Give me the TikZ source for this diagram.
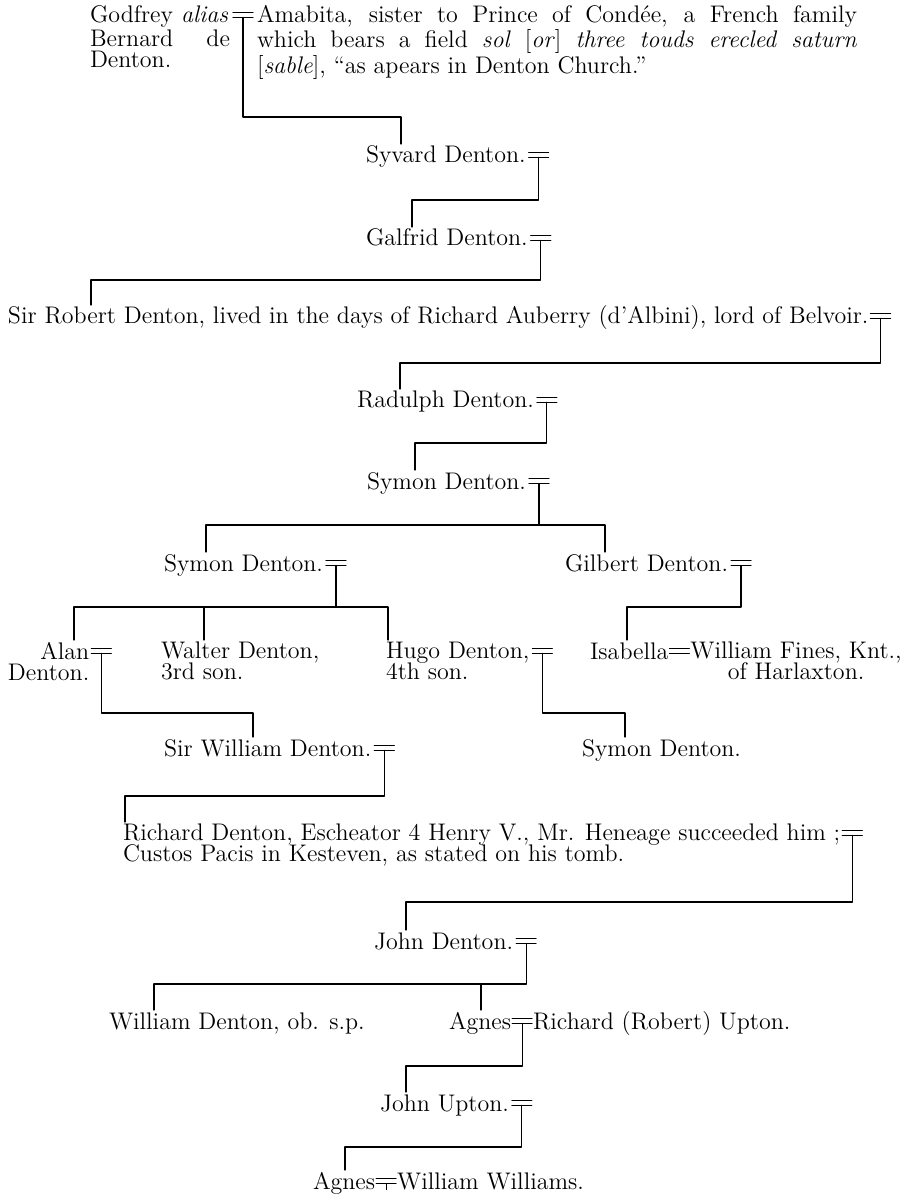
\documentclass[tikz,border=0pt]{standalone}
\usetikzlibrary{calc}

\begin{document}
\lineskiplimit=-30pt
\begin{tikzpicture}[
    x=0.5pt, y=-0.5pt,
    line cap=round,
    line join=round,
    person/.style={inner sep=0pt, outer sep=0pt, anchor=base west,
        font=\fontsize{12}{10.5}\selectfont},
    block/.style={person, anchor=north west},
    link/.style={line width=0.55pt},
    wed/.pic={\draw[link] (-10,-5) -- (10,-5) (-10,0) -- (10,0);},
    wedstem/.pic={\draw[link] (-10,-5) -- (10,-5) (-10,0) -- (10,0) (0,0) -- (0,6);}
]
\useasboundingbox (0,0) rectangle (912,1197);

% -------------------------------------------------
% Heights of the bars that join each family
% -------------------------------------------------

\coordinate (bar1)  at (0,117);
\coordinate (bar2)  at (0,200);
\coordinate (bar3)  at (0,280);
\coordinate (bar4)  at (0,363);
\coordinate (bar5)  at (0,443);
\coordinate (bar6)  at (0,525);
\coordinate (bar7)  at (0,607);
\coordinate (bar8)  at (0,713);
\coordinate (bar9)  at (0,796);
\coordinate (bar10) at (0,902);
\coordinate (bar11) at (0,984);
\coordinate (bar12) at (0,1066);
\coordinate (bar13) at (0,1147);

% -------------------------------------------------
% First couple
% -------------------------------------------------

\node[person, text width=70pt, align=left] (godfrey) at (90,23)
    {Godfrey \textit{alias}\\Bernard\hfill de\\Denton.};
\coordinate (godfrey-m) at ($(godfrey.base east)+(13,-5.5)$);
\node[person, text width=300pt, align=justify] (amabita) at ($(godfrey-m)+(14,5.5)$)
    {Amabita, sister to Prince of Condée, a French family\linebreak
     which bears a field \textit{sol} [\textit{or}] \textit{three touds erecled saturn}\linebreak{}[\textit{sable}], “as apears in Denton Church.”};

% -------------------------------------------------
% Single line of descent
% -------------------------------------------------

\node[person] (syvard)  at (366,163) {Syvard Denton.};
\node[person] (galfrid) at (366,246) {Galfrid Denton.};
\node[person] (robert)  at (8,324)
    {Sir Robert Denton, lived in the days of Richard Auberry (d'Albini), lord of Belvoir.};
\node[person] (radulph) at (357,408) {Radulph Denton.};
\node[person] (symon)   at (367,489) {Symon Denton.};

% -------------------------------------------------
% The branches
% -------------------------------------------------

\node[person] (symonb)  at (164,571) {Symon Denton.};
\node[person] (gilbert) at (565,571) {Gilbert Denton.};

% two-line entries hang from the top of their first line
\node[block, align=right] (alan)   at (8,642.3)   {Alan\\Denton.};
\node[block, align=left]  (walter) at (161,642.3) {Walter Denton,\\3rd son.};
\node[block, align=left]  (hugo)   at (386,642.3) {Hugo Denton,\\4th son.};
\node[person] (isabella) at (590,659) {Isabella};

\node[person] (william) at (164,756) {Sir William Denton.};
\node[person] (symonc)  at (582,756) {Symon Denton.};

\node[block, align=left] (richard) at (123,824.3)
    {Richard Denton, Escheator 4 Henry V., Mr. Heneage succeeded him ;\\
     Custos Pacis in Kesteven, as stated on his tomb.};

\node[person] (john)     at (374,949)  {John Denton.};
\node[person] (williamb) at (109,1029) {William Denton, ob. s.p.};
\node[person] (agnes)    at (449,1029) {Agnes};
\node[person] (johnu)    at (380,1111) {John Upton.};
\node[person] (agnesb)   at (313,1189) {Agnes};

% -------------------------------------------------
% Marriage signs
% -------------------------------------------------

\coordinate (syvard-m)   at ($(syvard.base east)+(13,-5.5)$);
\coordinate (galfrid-m)  at ($(galfrid.base east)+(13,-5.5)$);
\coordinate (robert-m)   at ($(robert.base east)+(12,-5.5)$);
\coordinate (radulph-m)  at ($(radulph.base east)+(13,-5.5)$);
\coordinate (symon-m)    at ($(symon.base east)+(13,-5.5)$);
\coordinate (symonb-m)   at ($(symonb.base east)+(13,-5.5)$);
\coordinate (gilbert-m)  at ($(gilbert.base east)+(13,-5.5)$);
\coordinate (alan-m)     at ($(alan.north east)+(12,11.2)$);
\coordinate (hugo-m)     at ($(hugo.north east)+(13,11.2)$);
\coordinate (isabella-m) at ($(isabella.base east)+(11,-5.5)$);
\coordinate (william-m)  at ($(william.base east)+(13,-5.5)$);
\coordinate (richard-m)  at ($(richard.north east)+(12,11.2)$);
\coordinate (john-m)     at ($(john.base east)+(13,-5.5)$);
\coordinate (agnes-m)    at ($(agnes.base east)+(11,-5.5)$);
\coordinate (johnu-m)    at ($(johnu.base east)+(13,-5.5)$);
\coordinate (agnesb-m)   at ($(agnesb.base east)+(11,-5.5)$);

\foreach \who in {godfrey,syvard,galfrid,robert,radulph,symon,symonb,gilbert,
                  alan,hugo,william,richard,john,agnes,johnu,agnesb}
    \pic at (\who-m) {wedstem};
\pic at (isabella-m) {wed};

% husbands written after the sign
\node[block, align=center] (fines) at ($(isabella-m)+(11,-11.2)$)
    {William Fines, Knt.,\\of Harlaxton.};
\node[person] (upton)    at ($(agnes-m)+(11,5.5)$)  {Richard (Robert) Upton.};
\node[person] (williams) at ($(agnesb-m)+(11,5.5)$) {William Williams.};

% -------------------------------------------------
% Where each child is reached from above
% -------------------------------------------------

\coordinate (syvard-in)   at ($(syvard.base west)+(35,-19)$);
\coordinate (galfrid-in)  at ($(galfrid.base west)+(46,-19)$);
\coordinate (robert-in)   at ($(robert.base west)+(83,-19)$);
\coordinate (radulph-in)  at ($(radulph.base west)+(43,-19)$);
\coordinate (symon-in)    at ($(symon.base west)+(48,-19)$);
\coordinate (symonb-in)   at ($(symonb.base west)+(42,-19)$);
\coordinate (gilbert-in)  at ($(gilbert.base west)+(40,-19)$);
\coordinate (alan-in)     at ($(alan.north west)+(66,-2.3)$);
\coordinate (walter-in)   at ($(walter.north west)+(43,-2.3)$);
\coordinate (hugo-in)     at ($(hugo.north west)+(2,-2.3)$);
\coordinate (isabella-in) at ($(isabella.base west)+(37,-19)$);
\coordinate (william-in)  at ($(william.base west)+(89,-19)$);
\coordinate (symonc-in)   at ($(symonc.base west)+(43,-19)$);
\coordinate (richard-in)  at ($(richard.north west)+(2,-2.3)$);
\coordinate (john-in)     at ($(john.base west)+(32,-19)$);
\coordinate (williamb-in) at ($(williamb.base west)+(45,-19)$);
\coordinate (agnes-in)    at ($(agnes.base west)+(32,-19)$);
\coordinate (johnu-in)    at ($(johnu.base west)+(26,-19)$);
\coordinate (agnesb-in)   at ($(agnesb.base west)+(32,-19)$);

% -------------------------------------------------
% Lines of descent
% -------------------------------------------------

\draw[link] (godfrey-m) |- (syvard-in |- bar1) -- (syvard-in);
\draw[link] (syvard-m)  |- (galfrid-in |- bar2) -- (galfrid-in);
\draw[link] (galfrid-m) |- (robert-in |- bar3) -- (robert-in);
\draw[link] (robert-m)  |- (radulph-in |- bar4) -- (radulph-in);
\draw[link] (radulph-m) |- (symon-in |- bar5) -- (symon-in);

% two sons of Symon
\draw[link] (symon-m) -- (symon-m |- bar6);
\draw[link] (symonb-in) -- (symonb-in |- bar6) -- (gilbert-in |- bar6) -- (gilbert-in);

% four sons of the younger Symon
\draw[link] (symonb-m) -- (symonb-m |- bar7);
\draw[link] (alan-in) -- (alan-in |- bar7) -- (hugo-in |- bar7) -- (hugo-in);
\draw[link] (walter-in) -- (walter-in |- bar7);

% Gilbert's daughter
\draw[link] (gilbert-m) |- (isabella-in |- bar7) -- (isabella-in);

\draw[link] (alan-m)    |- (william-in |- bar8) -- (william-in);
\draw[link] (hugo-m)    |- (symonc-in |- bar8) -- (symonc-in);
\draw[link] (william-m) |- (richard-in |- bar9) -- (richard-in);
\draw[link] (richard-m) |- (john-in |- bar10) -- (john-in);

% children of John Denton
\draw[link] (john-m) |- (williamb-in |- bar11) -- (williamb-in);
\draw[link] (agnes-in) -- (agnes-in |- bar11);

\draw[link] (agnes-m) |- (johnu-in |- bar12) -- (johnu-in);
\draw[link] (johnu-m) |- (agnesb-in |- bar13) -- (agnesb-in);

\end{tikzpicture}
\end{document}
